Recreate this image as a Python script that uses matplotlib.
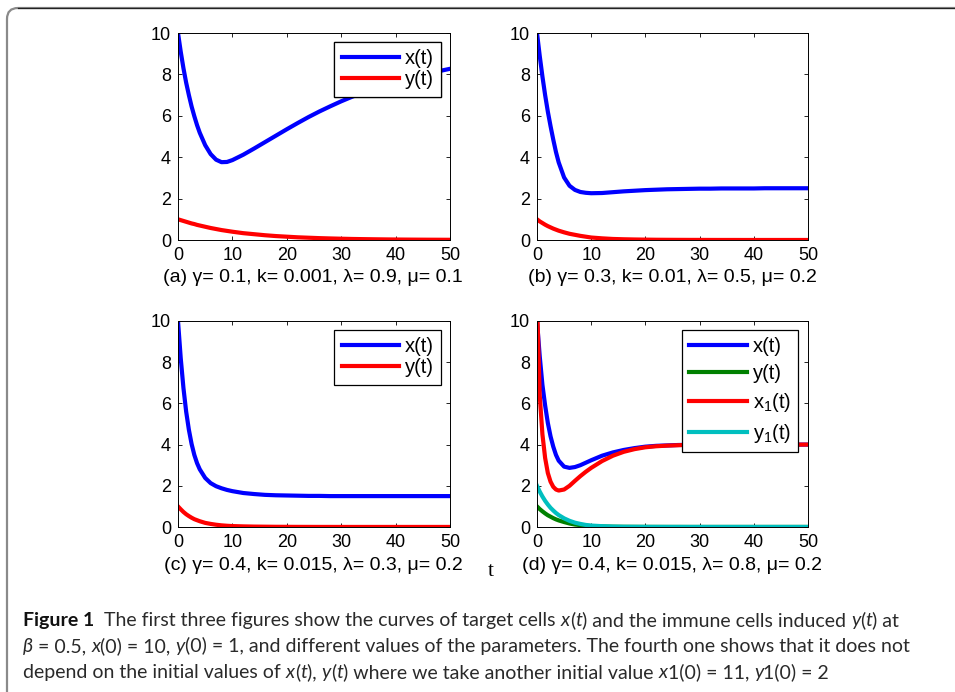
import matplotlib
matplotlib.use("Agg")
import matplotlib.pyplot as plt
from matplotlib.patches import FancyBboxPatch
from matplotlib.lines import Line2D

W, H = 955, 692

# ---------------- data ----------------
t = [0, 0.5, 1, 1.5, 2, 2.5, 3, 3.5, 4, 5, 6, 7, 8, 9, 10, 12, 14, 16, 18, 20,
     22, 24, 26, 28, 30, 32, 34, 36, 38, 40, 42, 44, 46, 48, 50]

xa = [10, 9.1, 8.3, 7.6, 7.0, 6.45, 5.98, 5.55, 5.18, 4.58, 4.15, 3.88, 3.76, 3.77, 3.86,
      4.12, 4.42, 4.73, 5.04, 5.35, 5.65, 5.94, 6.21, 6.46, 6.7, 6.92, 7.12, 7.32, 7.5,
      7.66, 7.8, 7.93, 8.05, 8.16, 8.27]
ya = [1.0, 0.96, 0.92, 0.88, 0.84, 0.80, 0.77, 0.73, 0.70, 0.64, 0.58, 0.53, 0.48, 0.44,
      0.40, 0.33, 0.28, 0.23, 0.19, 0.16, 0.13, 0.11, 0.09, 0.075, 0.062, 0.05, 0.042,
      0.035, 0.029, 0.024, 0.02, 0.017, 0.014, 0.012, 0.01]

xb = [10, 8.9, 7.9, 7.0, 6.2, 5.5, 4.85, 4.25, 3.75, 3.02, 2.62, 2.42, 2.32, 2.28, 2.26,
      2.27, 2.31, 2.35, 2.38, 2.41, 2.43, 2.45, 2.46, 2.47, 2.48, 2.48, 2.49, 2.49,
      2.49, 2.49, 2.5, 2.5, 2.5, 2.5, 2.5]
yb = [1.0, 0.9, 0.82, 0.74, 0.67, 0.61, 0.55, 0.5, 0.45, 0.37, 0.3, 0.25, 0.2, 0.16,
      0.12, 0.08, 0.05, 0.035, 0.025, 0.018, 0.012, 0.009, 0.007, 0.005, 0.004, 0.003,
      0.002, 0.002, 0.001, 0.001, 0.001, 0.001, 0.001, 0.001, 0.001]

xc = [10, 8.2, 6.75, 5.6, 4.72, 4.03, 3.5, 3.1, 2.8, 2.38, 2.13, 1.98, 1.88, 1.8, 1.74,
      1.65, 1.6, 1.56, 1.54, 1.53, 1.52, 1.51, 1.51, 1.5, 1.5, 1.5, 1.5, 1.5, 1.5,
      1.5, 1.5, 1.5, 1.5, 1.5, 1.5]
yc = [1.0, 0.86, 0.73, 0.62, 0.53, 0.45, 0.38, 0.33, 0.28, 0.2, 0.15, 0.11, 0.08,
      0.06, 0.045, 0.03, 0.02, 0.015, 0.01, 0.008, 0.006, 0.005, 0.004, 0.004, 0.003,
      0.003, 0.003, 0.003, 0.003, 0.003, 0.003, 0.003, 0.003, 0.003, 0.003]

xd = [10, 8.3, 6.9, 5.9, 5.05, 4.4, 3.9, 3.5, 3.22, 2.93, 2.87, 2.91, 3.0, 3.12, 3.24,
      3.46, 3.62, 3.74, 3.83, 3.9, 3.94, 3.96, 3.98, 3.99, 4.0, 4.0, 4.0, 4.0, 4.0,
      4.0, 4.0, 4.0, 4.0, 4.0, 4.0]
yd = [1.0, 0.87, 0.76, 0.66, 0.57, 0.5, 0.43, 0.37, 0.32, 0.24, 0.17, 0.12, 0.09,
      0.06, 0.045, 0.025, 0.015, 0.01, 0.008, 0.006, 0.005, 0.004, 0.004, 0.003, 0.003,
      0.003, 0.003, 0.003, 0.003, 0.003, 0.003, 0.003, 0.003, 0.003, 0.003]
x1d = [11, 6.4, 4.5, 3.35, 2.62, 2.2, 1.95, 1.82, 1.77, 1.82, 2.0, 2.24, 2.47, 2.68,
       2.87, 3.2, 3.46, 3.65, 3.78, 3.87, 3.92, 3.95, 3.97, 3.99, 4.0, 4.0, 4.0, 4.0,
       4.0, 4.0, 4.0, 4.0, 4.0, 4.0, 4.0]
y1d = [2.0, 1.72, 1.48, 1.27, 1.09, 0.93, 0.8, 0.68, 0.58, 0.42, 0.3, 0.21, 0.15,
       0.1, 0.07, 0.04, 0.02, 0.01, 0.008, 0.006, 0.005, 0.004, 0.004, 0.003, 0.003,
       0.003, 0.003, 0.003, 0.003, 0.003, 0.003, 0.003, 0.003, 0.003, 0.003]

xticks = [0, 10, 20, 30, 40, 50]
yticks = [0, 2, 4, 6, 8, 10]

captions = ["(a) \u03b3= 0.1, k= 0.001, \u03bb= 0.9, \u03bc= 0.1",
            "(b) \u03b3= 0.3, k= 0.01, \u03bb= 0.5, \u03bc= 0.2",
            "(c) \u03b3= 0.4, k= 0.015, \u03bb= 0.3, \u03bc= 0.2",
            "(d) \u03b3= 0.4, k= 0.015, \u03bb= 0.8, \u03bc= 0.2"]

# ---------------- figure ----------------
plt.rcParams['font.family'] = ['Liberation Sans', 'DejaVu Sans']
plt.rcParams['mathtext.fontset'] = 'custom'
plt.rcParams['mathtext.rm'] = 'Liberation Sans'
fig = plt.figure(figsize=(W / 100, H / 100), dpi=100)
fig.patch.set_facecolor('white')

# rounded border (extends past right/bottom edges)
border = FancyBboxPatch((7 / 100, -1.0), 20, (H - 8) / 100 + 1.0,
                        boxstyle="round,pad=0,rounding_size=0.11",
                        transform=fig.dpi_scale_trans, facecolor='none',
                        edgecolor='#8a8a8a', linewidth=1.6, zorder=0)
fig.patches.append(border)
fig.add_artist(Line2D([18 / W, 1.0], [1 - 8.2 / H, 1 - 8.2 / H], color='#222222',
                      linewidth=0.9, transform=fig.transFigure))


def px_axes(left, top, right, bottom):
    return fig.add_axes([left / W, 1 - bottom / H, (right - left) / W, (bottom - top) / H])


def style(ax):
    ax.set_xlim(0, 50)
    ax.set_ylim(0, 10)
    ax.set_xticks(xticks)
    ax.set_yticks(yticks)
    ax.tick_params(direction='in', length=3, width=0.6, top=True, right=True,
                   labelsize=13, pad=5, colors='black')
    for s in ax.spines.values():
        s.set_linewidth(0.7)


LW = 3.0
leg_kw = dict(fontsize=14.5, handlelength=2.85, handletextpad=0.3, fancybox=False,
              framealpha=1, edgecolor='black', borderpad=0.35, labelspacing=0.12,
              borderaxespad=0)

axes_px = [(178, 33, 450, 240), (537, 33, 808, 240), (178, 321, 450, 527), (537, 321, 808, 527)]
series = [(xa, ya), (xb, yb), (xc, yc)]
for i in range(3):
    l, tp, r, b = axes_px[i]
    ax = px_axes(l, tp, r, b)
    ax.plot(t, series[i][0], color=(0, 0, 1), lw=LW, label='x(t)')
    ax.plot(t, series[i][1], color=(1, 0, 0), lw=LW, label='y(t)')
    style(ax)
    leg = ax.legend(loc='upper right',
                    bbox_to_anchor=((441 - l) / (r - l), 1 - 9 / (b - tp)), **leg_kw)
    leg.get_frame().set_linewidth(0.9)

l, tp, r, b = axes_px[3]
ax = px_axes(l, tp, r, b)
ax.plot(t, xd, color=(0, 0, 1), lw=LW, label='x(t)')
ax.plot(t, yd, color=(0, 0.5, 0), lw=LW, label='y(t)')
ax.plot(t, x1d, color=(1, 0, 0), lw=LW, label='x$_1$(t)')
ax.plot(t, y1d, color=(0, 0.75, 0.75), lw=LW, label='y$_1$(t)')
style(ax)
kw = dict(leg_kw)
kw['labelspacing'] = 0.4
leg = ax.legend(loc='upper right', bbox_to_anchor=((798 - l) / (r - l), 1 - 9 / (b - tp)), **kw)
leg.get_frame().set_linewidth(0.9)

# sub-captions
cap_pos = [(313, 277), (672, 277), (313, 565), (672, 565)]
for (cx, cy), txt in zip(cap_pos, captions):
    fig.text(cx / W, 1 - cy / H, txt, ha='center', va='center', fontsize=14)
fig.text(491 / W, 1 - 571 / H, 't', ha='center', va='center', fontsize=15,
         family='Liberation Serif')

# ---------------- figure caption ----------------
renderer = fig.canvas.get_renderer()
CAP_FONT = 'Lato'


def props(st, size):
    d = dict(fontsize=size, family=CAP_FONT, color='#2a2a2a')
    if st == 'b':
        d['weight'] = 'bold'
        d['color'] = '#111111'
    if st == 'i':
        d['style'] = 'italic'
    return d


def seg_width(s, st, size):
    t1 = fig.text(0, 0, s + '|', **props(st, size))
    t2 = fig.text(0, 0, '|', **props(st, size))
    w = t1.get_window_extent(renderer).width - t2.get_window_extent(renderer).width
    t1.remove(); t2.remove()
    return w


def draw_line(segs, x0, ybase, size):
    x = x0
    for s, st in segs:
        fig.text(x / W, 1 - ybase / H, s, ha='left', va='baseline', **props(st, size))
        x += seg_width(s, st, size)


line1 = [("Figure 1", 'b'), ("  The first three figures show the curves of target cells ", 'n'),
         ("x", 'i'), ("(", 'n'), ("t", 'i'), (") and the immune cells induced ", 'n'),
         ("y", 'i'), ("(", 'n'), ("t", 'i'), (") at", 'n')]
line2 = [("\u03b2", 'i'), (" = 0.5, ", 'n'), ("x", 'i'), ("(0) = 10, ", 'n'), ("y", 'i'),
         ("(0) = 1, and different values of the parameters. The fourth one shows that it does not", 'n')]
line3 = [("depend on the initial values of ", 'n'), ("x", 'i'), ("(", 'n'), ("t", 'i'), ("), ", 'n'),
         ("y", 'i'), ("(", 'n'), ("t", 'i'), (") where we take another initial value ", 'n'),
         ("x", 'i'), ("1(0) = 11, ", 'n'), ("y", 'i'), ("1(0) = 2", 'n')]

base = 12.0
w1 = sum(seg_width(s, st, base) for s, st in line1)
size = base * (897 - 23) / w1
draw_line(line1, 23, 626, size)
draw_line(line2, 23, 652, size)
draw_line(line3, 23, 678, size)

fig.savefig('out.png', dpi=100)
